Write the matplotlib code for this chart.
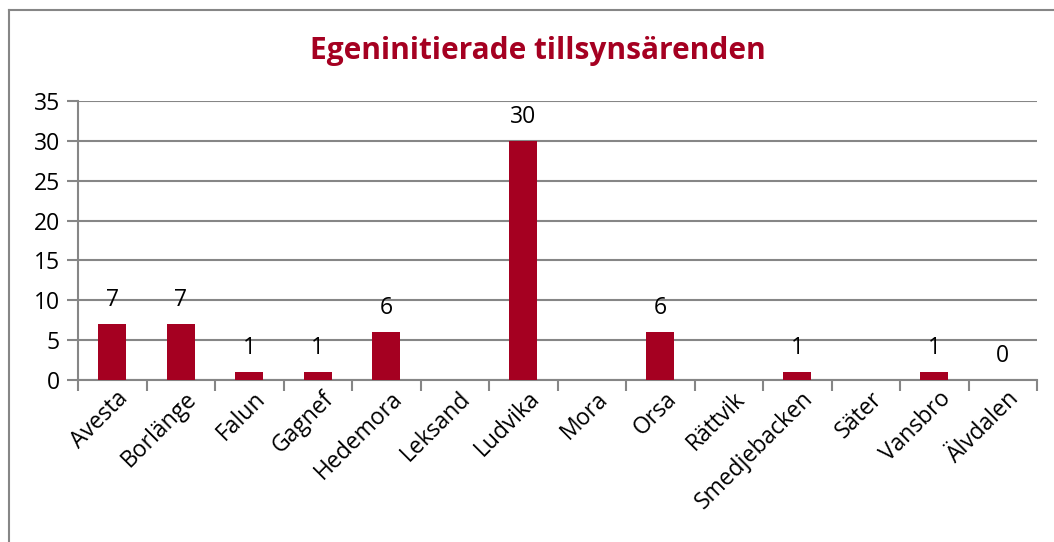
import matplotlib.pyplot as plt
import numpy as np
from matplotlib.lines import Line2D

# kommuner och antal egeninitierade tillsynsärenden (nan = inget värde)
KOMMUNER = ["Avesta", "Borlänge", "Falun", "Gagnef", "Hedemora", "Leksand",
            "Ludvika", "Mora", "Orsa", "Rättvik", "Smedjebacken", "Säter",
            "Vansbro", "Älvdalen"]
ARENDEN = [7, 7, 1, 1, 6, np.nan, 30, np.nan, 6, np.nan, 1, np.nan, 1, 0]
Y_TICKS = [0, 5, 10, 15, 20, 25, 30, 35]

TITLE = "Egeninitierade tillsynsärenden"
BAR_COLOR = "#A50021"
GRID_COLOR = "#868686"

plt.rcParams["font.family"] = ["Open Sans", "DejaVu Sans"]

fig = plt.figure(figsize=(10.54, 5.42), dpi=100)
ax = fig.add_axes([0.074, 0.2989, 0.910, 0.5148])

x = np.arange(len(KOMMUNER))
vals = np.array(ARENDEN, dtype=float)
ax.bar(x, np.nan_to_num(vals), width=0.41, color=BAR_COLOR, zorder=3)

for xi, v in zip(x, vals):
    if not np.isnan(v):
        ax.text(xi, v + 1.5, f"{int(v)}", ha="center", va="bottom",
                fontsize=16.5, color="black", zorder=4)

ax.set_xlim(-0.5, len(KOMMUNER) - 0.5)
ax.set_ylim(0, 35)
ax.set_yticks(Y_TICKS)
ax.set_yticklabels([str(t) for t in Y_TICKS], fontsize=16.5)
ax.yaxis.grid(True, color=GRID_COLOR, linewidth=1.5, zorder=0)
ax.set_axisbelow(True)

# category ticks between the bars, labels centred under them
ax.set_xticks(np.arange(len(KOMMUNER) + 1) - 0.5)
ax.set_xticklabels([])
ax.set_xticks(x + 0.06, minor=True)
ax.set_xticklabels(KOMMUNER, minor=True, rotation=45, ha="right",
                   rotation_mode="anchor", fontsize=16.5)
ax.tick_params(axis="x", which="minor", length=0, pad=5)
ax.tick_params(axis="x", which="major", length=8, width=1.5,
               color=GRID_COLOR, direction="out")
ax.tick_params(axis="y", length=8, width=1.5, color=GRID_COLOR, pad=5)

for side in ["top", "right"]:
    ax.spines[side].set_visible(False)
for side in ["left", "bottom"]:
    ax.spines[side].set_color(GRID_COLOR)
    ax.spines[side].set_linewidth(1.5)

fig.text(0.51, 0.905, TITLE, ha="center", va="center", fontsize=21.5,
         fontweight="bold", color=BAR_COLOR)

# outer chart frame (only left and top edges visible)
fig.add_artist(Line2D([0.0085, 0.0085], [0.0, 0.981], color=GRID_COLOR,
                      linewidth=1.5, transform=fig.transFigure))
fig.add_artist(Line2D([0.0085, 1.0], [0.981, 0.981], color=GRID_COLOR,
                      linewidth=1.5, transform=fig.transFigure))

plt.savefig("out.png", dpi=100)
